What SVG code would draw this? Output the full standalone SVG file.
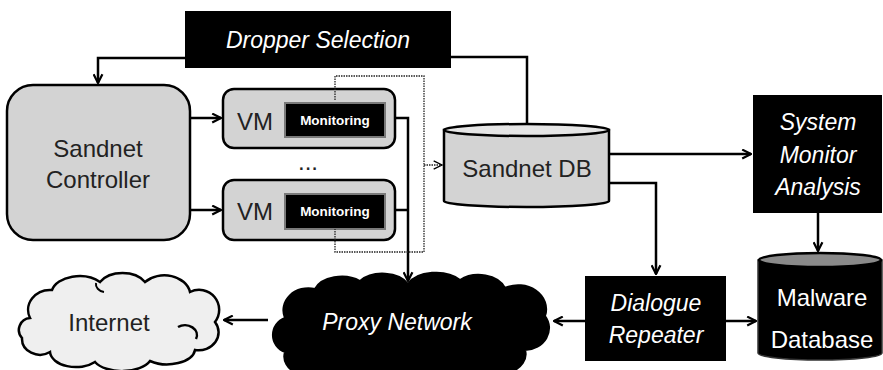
<svg xmlns="http://www.w3.org/2000/svg" width="883" height="370" viewBox="0 0 883 370">
<defs>
<marker id="arr" viewBox="0 0 10 10" refX="9" refY="5" markerWidth="4.4" markerHeight="4.4" orient="auto" markerUnits="strokeWidth">
<path d="M1,1 L9,5 L1,9" fill="none" stroke="#000" stroke-width="2"/>
</marker>
<marker id="arrThin" viewBox="0 0 10 10" refX="9" refY="5" markerWidth="8" markerHeight="8" orient="auto" markerUnits="strokeWidth">
<path d="M1,1 L9,5 L1,9" fill="none" stroke="#000" stroke-width="1.3"/>
</marker>
</defs>
<style>
text{font-family:"Liberation Sans",Arial,sans-serif;text-anchor:middle}
.lbl{font-size:24px;fill:#222}
.wl{font-size:23px;fill:#fff;font-style:italic}
.ww{font-size:24px;fill:#fff}
.mon{font-size:13.5px;font-weight:bold;fill:#fff}
.blk{fill:#000}
.gray{fill:#d3d3d3;stroke:#000;stroke-width:2.5}
.con{fill:none;stroke:#000;stroke-width:2.5}
.dot{fill:none;stroke:#222;stroke-width:1.3;stroke-dasharray:1.5 1}
</style>
<rect width="883" height="370" fill="#fff"/>

<g id="dropper">
<rect class="blk" x="185" y="11" width="266" height="57"/>
<text class="wl" x="318" y="48">Dropper Selection</text>
</g>

<g id="controller">
<rect class="gray" x="7" y="85" width="183" height="155" rx="26" stroke-width="3"/>
<text class="lbl" x="98" y="157">Sandnet</text>
<text class="lbl" x="98" y="188">Controller</text>
</g>

<g id="vm1">
<rect class="gray" x="223" y="89" width="172" height="59" rx="11"/>
<text class="lbl" x="255" y="130">VM</text>
<rect x="285" y="103" width="100" height="34" fill="#000" stroke="#7a7a7a" stroke-width="2"/>
<text class="mon" x="335" y="125">Monitoring</text>
</g>

<text class="lbl" x="308" y="170" font-size="16">...</text>

<g id="vm2">
<rect class="gray" x="223" y="180" width="172" height="60" rx="11"/>
<text class="lbl" x="255" y="220">VM</text>
<rect x="285" y="194" width="100" height="35" fill="#000" stroke="#7a7a7a" stroke-width="2"/>
<text class="mon" x="335" y="216">Monitoring</text>
</g>

<g id="sandnetdb">
<path d="M444,130 L444,201 A82.5,6 0 0 0 609,201 L609,130 Z" fill="#d3d3d3" stroke="#000" stroke-width="2.5"/>
<ellipse cx="526.5" cy="130" rx="82.5" ry="6" fill="#e6e6e6" stroke="#000" stroke-width="2.5"/>
<text class="lbl" x="527" y="177" font-size="23">Sandnet DB</text>
</g>

<g id="sma">
<rect class="blk" x="753" y="95" width="129" height="118"/>
<text class="wl" x="818" y="130">System</text>
<text class="wl" x="818" y="163">Monitor</text>
<text class="wl" x="818" y="195">Analysis</text>
</g>

<g id="dialogue">
<rect class="blk" x="585" y="276" width="141" height="85"/>
<text class="wl" x="656" y="311">Dialogue</text>
<text class="wl" x="656" y="343">Repeater</text>
</g>

<g id="malwaredb">
<path d="M758,260 L758,353 A62,7 0 0 0 882,353 L882,260 Z" fill="#000" stroke="#333" stroke-width="1.5"/>
<ellipse cx="820" cy="260" rx="61" ry="7" fill="#8a8a8a" stroke="#000" stroke-width="2.5"/>
<text class="ww" x="822" y="306">Malware</text>
<text class="ww" x="822" y="348">Database</text>
</g>

<g id="proxy">
<path d="M285,318 A25,22 0 0 1 315,289 A28,18 0 0 1 360,281 A28,18 0 0 1 408,284 A30,18 0 0 1 460,280 A28,20 0 0 1 505,288 A28,24 0 0 1 545,316 A25,22 0 0 1 525,350 A35,22 0 0 1 470,372 A40,22 0 0 1 400,378 A40,22 0 0 1 330,372 A28,20 0 0 1 285,352 A18,18 0 0 1 285,318 Z" fill="#000" stroke="#000" stroke-width="2"/>
<text class="wl" x="397" y="330" font-size="24">Proxy Network</text>
</g>

<g id="internet">
<path d="M30,318 A22,20 0 0 1 52,290 A28,18 0 0 1 100,282 A26,18 0 0 1 145,282 A26,20 0 0 1 190,292 A20,20 0 0 1 215,322 A20,18 0 0 1 195,350 A28,16 0 0 1 150,361 A30,16 0 0 1 95,362 A26,16 0 0 1 50,352 A18,16 0 0 1 22,338 A12,12 0 0 1 30,318 Z" fill="#efefef" stroke="#000" stroke-width="2.5"/>
<path d="M178,327 A12,10 0 0 1 196,339" fill="none" stroke="#000" stroke-width="2.5"/>
<path d="M96,283 A10,8 0 0 0 104,292" fill="none" stroke="#000" stroke-width="2"/>
<text class="lbl" x="109" y="331" font-size="25">Internet</text>
</g>

<g id="connectors">
<polyline class="con" points="185,58 98,58 98,83" marker-end="url(#arr)"/>
<polyline class="con" points="451,57 527,57 527,124"/>
<line class="con" x1="190" y1="118" x2="221" y2="118" marker-end="url(#arr)"/>
<line class="con" x1="190" y1="210" x2="221" y2="210" marker-end="url(#arr)"/>
<polyline class="con" points="395,118 408,118 408,281" marker-end="url(#arr)"/>
<line class="con" x1="395" y1="210" x2="408" y2="210"/>
<polyline class="dot" points="335,100 335,76 424,76 424,252 335,252 335,229"/>
<line class="dot" x1="424" y1="165" x2="442" y2="165" marker-end="url(#arrThin)"/>
<line class="con" x1="609" y1="154" x2="751" y2="154" marker-end="url(#arr)"/>
<polyline class="con" points="609,183 656,183 656,274" marker-end="url(#arr)"/>
<line class="con" x1="818" y1="213" x2="818" y2="251" marker-end="url(#arr)"/>
<line class="con" x1="585" y1="321" x2="554" y2="321" marker-end="url(#arr)"/>
<line class="con" x1="726" y1="321" x2="756" y2="321" marker-end="url(#arr)"/>
<line class="con" x1="268" y1="320" x2="224" y2="320" marker-end="url(#arr)"/>
</g>
</svg>
